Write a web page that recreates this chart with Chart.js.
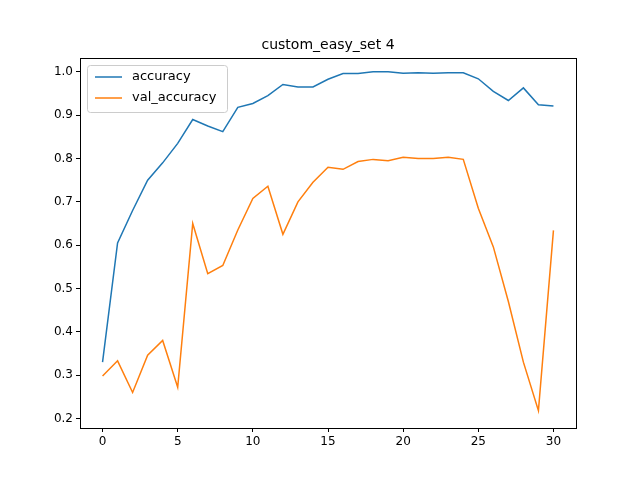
<!DOCTYPE html>
<html>
<head>
<meta charset="utf-8">
<script src="https://cdn.jsdelivr.net/npm/chart.js@4"></script>
<style>
  body { margin: 0; background: #fff; }
  #wrap { width: 640px; height: 480px; }
</style>
</head>
<body>
<div id="wrap"><canvas id="chart" width="640" height="480"></canvas></div>
<script>
const chartTitle = "custom_easy_set 4";
const epochs = [0,1,2,3,4,5,6,7,8,9,10,11,12,13,14,15,16,17,18,19,20,21,22,23,24,25,26,27,28,29,30];
const accuracy = [0.33,0.605,0.68,0.75,0.79,0.835,0.89,0.875,0.862,0.918,0.927,0.945,0.971,0.965,0.965,0.983,0.996,0.996,1.0,1.0,0.997,0.998,0.997,0.998,0.998,0.984,0.955,0.934,0.963,0.924,0.921];
const valAccuracy = [0.298,0.333,0.26,0.346,0.38,0.272,0.65,0.534,0.553,0.635,0.708,0.736,0.625,0.70,0.745,0.78,0.775,0.793,0.798,0.795,0.803,0.800,0.800,0.803,0.798,0.685,0.596,0.47,0.33,0.218,0.634];
const xTicks = [0,5,10,15,20,25,30];
const yTicks = [0.2,0.3,0.4,0.5,0.6,0.7,0.8,0.9,1.0];
const seriesNames = ["accuracy", "val_accuracy"];
const seriesColors = ["#1f77b4", "#ff7f0e"];

const FONT = "'DejaVu Sans', sans-serif";

// frame, title and legend drawn the matplotlib way
const mplDecor = {
    id: "mplDecor",
    afterDraw(chart) {
        const ctx = chart.ctx;
        const a = chart.chartArea;
        ctx.save();
        ctx.strokeStyle = "#000";
        ctx.lineWidth = 1;
        ctx.strokeRect(a.left + 0.5, a.top + 0.5, a.right - a.left, a.bottom - a.top);

        ctx.fillStyle = "#000";
        ctx.font = "14px " + FONT;
        ctx.textAlign = "center";
        ctx.textBaseline = "bottom";
        ctx.fillText(chartTitle, (a.left + a.right) / 2, a.top - 6);

        // legend
        const lx = a.left + 7, ly = a.top + 7, lw = 140, lh = 47;
        ctx.fillStyle = "rgba(255,255,255,0.8)";
        ctx.strokeStyle = "#cccccc";
        ctx.beginPath();
        ctx.roundRect(lx + 0.5, ly + 0.5, lw, lh, 3);
        ctx.fill();
        ctx.stroke();
        ctx.font = "13px " + FONT;
        ctx.textAlign = "left";
        ctx.textBaseline = "middle";
        seriesNames.forEach((name, i) => {
            const yy = ly + 12 + i * 21;
            ctx.strokeStyle = seriesColors[i];
            ctx.lineWidth = 1.5;
            ctx.beginPath();
            ctx.moveTo(lx + 8, yy);
            ctx.lineTo(lx + 35, yy);
            ctx.stroke();
            ctx.fillStyle = "#000";
            ctx.fillText(name, lx + 45, yy);
        });
        ctx.restore();
    }
};

new Chart(document.getElementById("chart"), {
    type: "line",
    data: {
        datasets: [
            {
                label: seriesNames[0],
                data: epochs.map((e, i) => ({ x: e, y: accuracy[i] })),
                borderColor: seriesColors[0],
                borderWidth: 1.5,
                pointRadius: 0,
                tension: 0
            },
            {
                label: seriesNames[1],
                data: epochs.map((e, i) => ({ x: e, y: valAccuracy[i] })),
                borderColor: seriesColors[1],
                borderWidth: 1.5,
                pointRadius: 0,
                tension: 0
            }
        ]
    },
    options: {
        responsive: false,
        animation: false,
        layout: { padding: { left: 40, right: 64, top: 58, bottom: 0 } },
        plugins: { legend: { display: false }, title: { display: false }, tooltip: { enabled: false } },
        scales: {
            x: {
                type: "linear",
                min: -1.5,
                max: 31.5,
                afterBuildTicks: s => { s.ticks = xTicks.map(v => ({ value: v })); },
                afterFit: s => { s.height = 52; },
                grid: { drawOnChartArea: false, drawTicks: true, tickLength: 4, color: "#000" },
                border: { display: true, color: "#000" },
                ticks: { color: "#000", font: { family: FONT, size: 12 }, padding: 3, maxRotation: 0 }
            },
            y: {
                min: 0.178,
                max: 1.032,
                afterBuildTicks: s => { s.ticks = yTicks.map(v => ({ value: v })); },
                afterFit: s => { s.width = 40; },
                grid: { drawOnChartArea: false, drawTicks: true, tickLength: 4, color: "#000" },
                border: { display: true, color: "#000" },
                ticks: { color: "#000", font: { family: FONT, size: 12 }, padding: 3, callback: v => v.toFixed(1) }
            }
        }
    },
    plugins: [mplDecor]
});
</script>
</body>
</html>
